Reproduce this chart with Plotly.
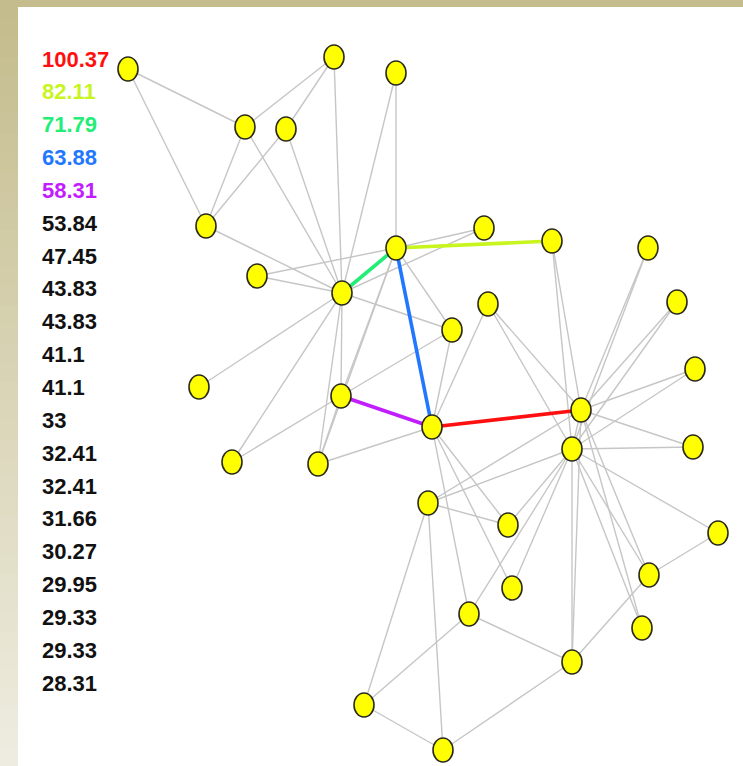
import plotly.graph_objects as go

# ---- data -------------------------------------------------------------
node_names = ["A", "B", "C", "D", "E", "F", "G", "H", "I", "J", "K", "L", "M", "N", "O", "P", "Q",
              "R", "S", "T", "U", "V", "W", "X", "Y", "Z", "AA", "AB", "AC", "AD", "AE", "AF", "AG", "AH"]
node_x = [128, 334, 396, 245, 286, 206, 257, 396, 484, 552, 648, 342, 488, 677, 452, 695, 199,
          341, 432, 581, 572, 693, 232, 318, 428, 508, 718, 512, 649, 469, 642, 572, 364, 443]
node_y = [69, 57, 73, 127, 129, 226, 276, 248, 228, 241, 248, 293, 304, 302, 330, 369, 387,
          396, 427, 410, 449, 447, 462, 464, 503, 525, 533, 588, 575, 614, 628, 662, 705, 750]

edges = [
    ("A", "D"), ("A", "F"), ("B", "D"), ("B", "E"), ("B", "L"), ("D", "F"), ("D", "L"), ("E", "F"),
    ("E", "L"), ("F", "L"),
    ("L", "R"), ("L", "X"), ("L", "Q"), ("L", "W"), ("L", "O"), ("L", "C"), ("L", "G"), ("L", "I"),
    ("H", "R"), ("H", "X"), ("H", "O"), ("H", "C"), ("H", "G"), ("H", "I"),
    ("S", "X"), ("S", "M"), ("S", "AB"), ("S", "O"), ("S", "AD"), ("S", "Z"),
    ("R", "X"), ("R", "W"), ("R", "O"),
    ("M", "T"), ("M", "U"), ("J", "T"), ("J", "U"),
    ("K", "T"), ("K", "U"), ("N", "T"), ("N", "U"), ("P", "T"), ("P", "U"), ("V", "T"), ("V", "U"),
    ("AE", "T"), ("AE", "U"),
    ("T", "AF"), ("T", "AC"), ("T", "Y"), ("T", "U"),
    ("U", "AB"), ("U", "AF"), ("U", "AA"), ("U", "AD"), ("U", "Z"), ("U", "AC"), ("U", "Y"),
    ("Y", "Z"), ("Y", "AG"), ("Y", "AH"), ("AG", "AH"), ("AG", "AD"),
    ("AH", "AF"), ("AF", "AD"), ("AF", "AC"), ("AC", "AA"),
]

top_edges = [("S", "T"), ("H", "J"), ("H", "L"), ("H", "S"), ("R", "S")]
top_colors = ["#ff1010", "#c8f51e", "#22ee77", "#2277ff", "#c21dff"]

betweenness = ["100.37", "82.11", "71.79", "63.88", "58.31", "53.84", "47.45", "43.83", "43.83", "41.1",
               "41.1", "33", "32.41", "32.41", "31.66", "30.27", "29.95", "29.33", "29.33", "28.31"]
label_colors = top_colors + ["#111111"] * 15

# ---- figure -----------------------------------------------------------
W, H = 743, 766
pos = {n: (x, y) for n, x, y in zip(node_names, node_x, node_y)}

fig = go.Figure()

ex, ey = [], []
for a, b in edges:
    ex += [pos[a][0], pos[b][0], None]
    ey += [pos[a][1], pos[b][1], None]
fig.add_trace(go.Scatter(x=ex, y=ey, mode="lines", line=dict(color="#c6c6c6", width=1.4),
                         hoverinfo="skip", showlegend=False))

for (a, b), c in zip(top_edges, top_colors):
    fig.add_trace(go.Scatter(x=[pos[a][0], pos[b][0]], y=[pos[a][1], pos[b][1]], mode="lines",
                             line=dict(color=c, width=3.6), hoverinfo="skip", showlegend=False))

shapes = []
# page frame: top band + left gradient strip
shapes.append(dict(type="rect", xref="paper", yref="paper", x0=0, x1=1, y0=1 - 7 / H, y1=1,
                   fillcolor="#c4bc8c", line=dict(width=0), layer="below"))
steps = 40
c0, c1 = (196, 188, 140), (238, 236, 224)
for i in range(steps):
    t = i / (steps - 1)
    col = "rgb(%d,%d,%d)" % tuple(round(c0[k] + (c1[k] - c0[k]) * t) for k in range(3))
    shapes.append(dict(type="rect", xref="paper", yref="paper", x0=0, x1=18 / W,
                       y0=1 - (i + 1) / steps, y1=1 - i / steps + 0.001,
                       fillcolor=col, line=dict(width=0), layer="below"))

# nodes as ellipses
rx, ry = 10, 12
for x, y in zip(node_x, node_y):
    shapes.append(dict(type="circle", xref="x", yref="y", x0=x - rx, x1=x + rx, y0=y - ry, y1=y + ry,
                       fillcolor="#ffff00", line=dict(color="#2a2a1a", width=1.6), layer="above"))

annotations = []
for i, (t, c) in enumerate(zip(betweenness, label_colors)):
    annotations.append(dict(x=40, y=59 + 32.85 * i, xref="x", yref="y", text="<b>%s</b>" % t,
                            showarrow=False, xanchor="left", yanchor="middle",
                            font=dict(family="Liberation Sans, Arial", size=22, color=c)))

fig.update_layout(
    width=W, height=H, margin=dict(l=0, r=0, t=0, b=0),
    paper_bgcolor="white", plot_bgcolor="rgba(0,0,0,0)",
    xaxis=dict(range=[0, W], visible=False, fixedrange=True),
    yaxis=dict(range=[H, 0], visible=False, fixedrange=True),
    shapes=shapes, annotations=annotations, showlegend=False,
)

fig.write_html("out.html", config={"displayModeBar": False},
               post_script="document.body.style.margin='0';document.body.style.overflow='hidden';")
